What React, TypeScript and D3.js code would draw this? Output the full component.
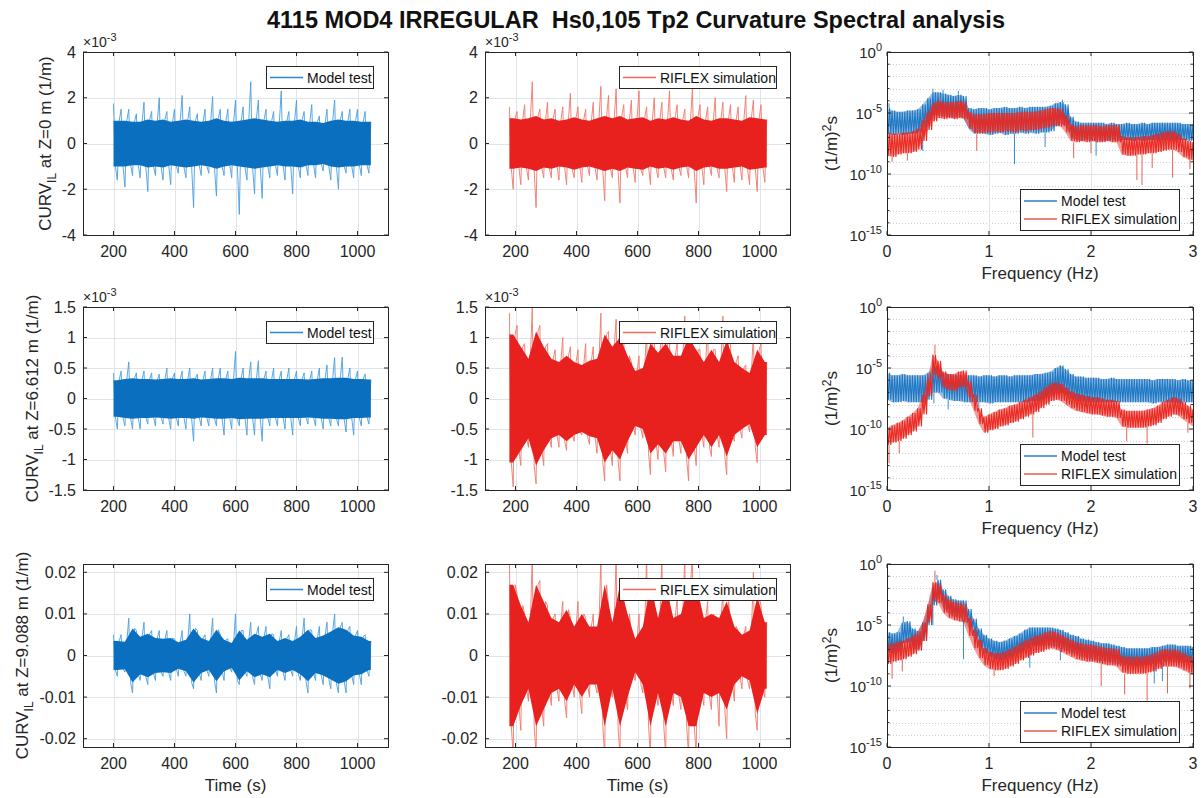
import React from "react";
import * as d3 from "d3";

const FONT = '"Liberation Sans", Arial, Helvetica, sans-serif';
const AX = "#262626";
const GRID = "#dfe4ea";
const TITLE = "4115 MOD4 IRREGULAR  Hs0,105 Tp2 Curvature Spectral analysis";

// ---------- time grids (bin start, s) ----------
const T_MODEL = [200,225,250,275,300,325,350,375,400,425,450,475,500,525,550,575,600,625,650,675,700,725,750,775,800,825,850,875,900,925,950,975,1000,1025];
const T_RIFLEX = [180,205,230,255,280,305,330,355,380,405,430,455,480,505,530,555,580,605,630,655,680,705,730,755,780,805,830,855,880,905,930,955,980,1005];
const TIME_DOMAIN = [100, 1100];
const TIME_TICKS = [200, 400, 600, 800, 1000];

// ---------- time series envelopes (peak high, peak low, dense core amplitude) ----------
// Row 1 (x1e-3)
const MT1_HI = [1.75,1.5,1.5,1.3,1.8,1.4,2.0,1.4,1.5,2.1,1.6,1.3,1.5,2.05,1.5,1.5,1.9,1.6,2.7,1.9,1.5,1.4,2.3,1.4,1.9,1.4,1.7,1.2,1.5,1.9,1.4,1.5,1.5,1.4];
const MT1_LO = [-1.6,-1.9,-1.4,-1.5,-2.1,-1.4,-1.6,-1.8,-1.3,-1.5,-2.8,-1.4,-1.3,-2.3,-1.4,-1.5,-3.1,-1.6,-2.2,-2.4,-1.5,-1.4,-1.6,-2.2,-1.5,-1.4,-1.5,-1.2,-1.6,-2.0,-1.3,-1.5,-1.4,-1.3];
const MT1_CORE = [1.0,1.0,0.95,0.95,1.05,1.0,1.05,0.95,1.0,1.05,1.0,0.95,1.0,1.1,1.0,0.95,1.0,1.05,1.1,1.05,1.0,0.95,1.0,1.0,1.05,0.95,0.95,0.9,1.0,1.05,1.0,1.0,0.95,0.95];
const RF1_HI = [1.6,1.4,1.7,2.7,1.5,1.8,1.5,1.6,2.2,1.6,1.5,1.8,2.5,2.1,2.4,1.7,1.9,2.3,1.6,2.0,1.8,2.3,1.7,1.5,2.4,1.7,1.6,2.0,1.8,1.7,1.6,2.1,1.9,1.7];
const RF1_LO = [-2.0,-1.8,-1.6,-2.8,-1.5,-1.5,-1.6,-1.8,-1.5,-1.7,-1.4,-1.6,-2.5,-1.5,-2.6,-1.5,-1.7,-1.4,-1.8,-1.5,-1.5,-1.6,-1.4,-1.5,-2.6,-1.8,-1.4,-1.5,-2.1,-1.7,-1.6,-1.8,-2.1,-1.7];
const RF1_CORE = [1.1,1.05,1.1,1.2,1.05,1.1,1.0,1.05,1.15,1.05,1.0,1.1,1.2,1.1,1.2,1.05,1.1,1.15,1.0,1.1,1.05,1.15,1.05,1.0,1.2,1.05,1.0,1.1,1.1,1.05,1.0,1.15,1.1,1.05];
// Row 2 (x1e-3)
const MT2_HI = [0.42,0.45,0.6,0.42,0.45,0.42,0.4,0.5,0.42,0.45,0.5,0.4,0.45,0.5,0.5,0.45,0.77,0.5,0.6,0.62,0.45,0.5,0.45,0.5,0.45,0.42,0.45,0.5,0.55,0.67,0.68,0.5,0.45,0.4];
const MT2_LO = [-0.5,-0.45,-0.5,-0.5,-0.42,-0.45,-0.42,-0.5,-0.45,-0.5,-0.7,-0.45,-0.45,-0.45,-0.6,-0.5,-0.45,-0.6,-0.6,-0.7,-0.45,-0.45,-0.5,-0.6,-0.45,-0.42,-0.45,-0.5,-0.45,-0.45,-0.55,-0.6,-0.45,-0.42];
const MT2_CORE = [0.3,0.32,0.33,0.32,0.32,0.31,0.32,0.33,0.32,0.32,0.33,0.31,0.32,0.33,0.33,0.32,0.34,0.33,0.33,0.33,0.32,0.32,0.32,0.32,0.32,0.31,0.32,0.33,0.33,0.34,0.34,0.32,0.32,0.31];
const RF2_HI = [1.4,1.2,0.9,1.5,1.2,0.9,0.8,1.0,0.85,0.8,0.9,0.85,1.4,1.1,1.3,1.0,0.6,0.7,1.15,1.0,1.25,0.95,0.9,1.35,1.0,0.8,1.2,0.8,1.35,0.9,0.7,0.55,1.1,0.9];
const RF2_LO = [-1.45,-1.1,-0.8,-1.4,-1.1,-0.8,-0.8,-0.85,-0.7,-0.6,-0.75,-0.9,-1.35,-1.1,-1.35,-0.9,-0.6,-0.65,-1.25,-1.0,-1.2,-0.95,-0.9,-1.35,-1.1,-0.8,-0.95,-0.8,-1.25,-0.7,-0.65,-0.55,-1.05,-0.6];
const RF2_CORE = [1.05,0.85,0.65,1.1,0.85,0.65,0.6,0.7,0.6,0.55,0.62,0.65,1.05,0.85,1.0,0.7,0.45,0.5,0.9,0.75,0.9,0.7,0.7,1.0,0.8,0.6,0.8,0.6,0.95,0.6,0.5,0.42,0.8,0.6];
// Row 3 (1/m)
const MT3_HI = [0.005,0.005,0.009,0.006,0.008,0.006,0.006,0.006,0.004,0.006,0.010,0.006,0.005,0.009,0.005,0.004,0.010,0.006,0.008,0.007,0.007,0.005,0.006,0.005,0.007,0.009,0.006,0.007,0.008,0.010,0.008,0.007,0.006,0.005];
const MT3_LO = [-0.005,-0.004,-0.009,-0.006,-0.007,-0.006,-0.005,-0.006,-0.005,-0.005,-0.008,-0.006,-0.005,-0.009,-0.006,-0.004,-0.007,-0.005,-0.007,-0.006,-0.008,-0.005,-0.006,-0.005,-0.006,-0.009,-0.006,-0.007,-0.008,-0.009,-0.009,-0.007,-0.007,-0.005];
const MT3_CORE = [0.0035,0.0033,0.0065,0.0045,0.0052,0.0042,0.004,0.0042,0.0032,0.0038,0.0065,0.0042,0.0035,0.0062,0.0038,0.003,0.006,0.0038,0.0052,0.0045,0.0052,0.0035,0.0042,0.0035,0.0045,0.0062,0.0042,0.0048,0.0058,0.0068,0.0062,0.0048,0.0045,0.0035];
const RF3_HI = [0.024,0.015,0.010,0.024,0.018,0.012,0.010,0.013,0.009,0.013,0.009,0.010,0.024,0.012,0.024,0.015,0.005,0.010,0.024,0.012,0.024,0.012,0.014,0.024,0.024,0.012,0.013,0.009,0.015,0.008,0.006,0.007,0.020,0.012];
const RF3_LO = [-0.024,-0.018,-0.011,-0.024,-0.017,-0.012,-0.011,-0.015,-0.010,-0.014,-0.010,-0.009,-0.024,-0.010,-0.024,-0.013,-0.006,-0.009,-0.024,-0.012,-0.024,-0.012,-0.013,-0.024,-0.024,-0.012,-0.013,-0.017,-0.020,-0.011,-0.008,-0.008,-0.018,-0.010];
const RF3_CORE = [0.017,0.012,0.008,0.017,0.013,0.009,0.008,0.011,0.007,0.010,0.007,0.007,0.017,0.008,0.017,0.010,0.004,0.007,0.017,0.009,0.017,0.009,0.010,0.017,0.017,0.009,0.010,0.009,0.013,0.007,0.005,0.006,0.014,0.008];

// ---------- spectra: log10 of band top / band bottom on a 0.05 Hz grid ----------
const FREQ = [0,0.05,0.1,0.15,0.2,0.25,0.3,0.35,0.4,0.45,0.5,0.55,0.6,0.65,0.7,0.75,0.8,0.85,0.9,0.95,1.0,1.05,1.1,1.15,1.2,1.25,1.3,1.35,1.4,1.45,1.5,1.55,1.6,1.65,1.7,1.75,1.8,1.85,1.9,1.95,2.0,2.05,2.1,2.15,2.2,2.25,2.3,2.35,2.4,2.45,2.5,2.55,2.6,2.65,2.7,2.75,2.8,2.85,2.9,2.95,3.0];

const SP1_MT_HI = [-4.6,-4.8,-4.9,-4.9,-4.8,-4.8,-4.7,-4.3,-3.8,-3.3,-3.3,-3.4,-3.5,-3.6,-3.5,-3.6,-4.6,-4.7,-4.6,-4.6,-4.7,-4.6,-4.6,-4.5,-4.6,-4.6,-4.5,-4.6,-4.5,-4.5,-4.5,-4.5,-4.4,-4.2,-4.1,-4.3,-5.3,-5.7,-5.8,-5.8,-5.8,-5.8,-5.8,-5.9,-5.8,-5.9,-5.9,-5.8,-5.9,-5.9,-5.8,-5.9,-5.8,-5.8,-5.8,-5.8,-5.8,-5.8,-5.9,-5.9,-5.9];
const SP1_MT_LO = [-6.7,-6.8,-6.7,-6.8,-6.7,-6.7,-6.6,-6.2,-5.7,-5.2,-5.2,-5.3,-5.3,-5.4,-5.3,-5.4,-6.3,-6.7,-6.6,-6.7,-6.8,-6.7,-6.6,-6.8,-6.7,-6.7,-6.6,-6.7,-6.6,-6.7,-6.6,-6.6,-6.5,-6.1,-5.9,-6.0,-7.0,-7.2,-7.3,-7.2,-7.3,-7.2,-7.3,-7.3,-7.2,-7.3,-7.2,-7.2,-7.3,-7.2,-7.3,-7.2,-7.2,-7.3,-7.2,-7.2,-7.3,-7.2,-7.2,-7.3,-7.2];
const SP1_RF_HI = [-6.6,-6.7,-6.7,-6.6,-6.6,-6.5,-6.3,-5.6,-4.9,-4.2,-4.0,-4.1,-4.1,-4.1,-4.0,-4.1,-4.9,-5.1,-5.1,-5.1,-5.0,-5.0,-5.0,-5.0,-5.0,-5.0,-4.9,-4.9,-4.9,-4.9,-4.8,-4.7,-4.6,-4.6,-4.7,-5.2,-5.9,-6.1,-6.0,-6.0,-6.0,-6.0,-6.1,-6.0,-6.0,-6.0,-6.9,-7.0,-7.0,-7.0,-6.9,-6.9,-6.8,-6.7,-6.6,-6.5,-6.5,-6.7,-7.1,-7.3,-7.4];
const SP1_RF_LO = [-8.5,-8.6,-8.4,-8.3,-8.3,-8.2,-8.0,-7.3,-6.4,-5.7,-5.4,-5.5,-5.4,-5.5,-5.4,-5.5,-6.2,-6.6,-6.7,-6.6,-6.6,-6.5,-6.6,-6.5,-6.5,-6.6,-6.4,-6.5,-6.4,-6.4,-6.3,-6.2,-6.1,-6.0,-6.1,-6.6,-7.3,-7.4,-7.3,-7.4,-7.3,-7.4,-7.4,-7.3,-7.4,-7.4,-8.4,-8.5,-8.5,-8.4,-8.4,-8.3,-8.3,-8.2,-8.1,-8.0,-8.0,-8.2,-8.6,-8.8,-8.9];
const SP1_MT_SPIKES = [[0.02,-4.2],[0.35,-8.1],[0.45,-3.0],[0.55,-3.1],[0.7,-3.2],[1.25,-9.2],[1.55,-7.8],[1.72,-3.9],[2.05,-8.5]];
const SP1_RF_SPIKES = [[0.05,-9.0],[0.2,-8.9],[0.52,-3.8],[0.88,-8.1],[1.83,-8.7],[2.0,-8.3],[2.45,-10.5],[2.5,-10.9],[2.6,-9.5],[2.8,-10.3],[2.97,-9.6]];

const SP2_MT_HI = [-5.4,-5.6,-5.6,-5.5,-5.6,-5.6,-5.6,-5.6,-5.4,-4.9,-5.0,-5.4,-5.5,-5.6,-5.6,-5.6,-5.6,-5.6,-5.7,-5.6,-5.6,-5.7,-5.6,-5.6,-5.7,-5.6,-5.6,-5.6,-5.6,-5.5,-5.5,-5.4,-5.3,-5.0,-4.8,-5.1,-5.5,-5.7,-5.7,-5.8,-5.8,-5.8,-5.9,-5.9,-5.8,-5.9,-5.9,-5.9,-5.9,-5.9,-5.9,-5.9,-6.0,-5.9,-5.9,-5.9,-5.9,-6.0,-5.9,-6.0,-6.0];
const SP2_MT_LO = [-7.6,-7.8,-7.8,-7.7,-7.8,-7.8,-7.8,-7.8,-7.6,-7.0,-7.0,-7.5,-7.6,-7.7,-7.7,-7.8,-7.8,-7.8,-7.8,-7.8,-7.9,-7.8,-7.8,-7.8,-7.8,-7.8,-7.8,-7.8,-7.7,-7.7,-7.6,-7.5,-7.4,-7.2,-7.0,-7.2,-7.5,-7.7,-7.7,-7.8,-7.8,-7.8,-7.8,-7.8,-7.8,-7.8,-7.8,-7.8,-7.8,-7.8,-7.8,-7.8,-7.9,-7.8,-7.8,-7.8,-7.8,-7.9,-7.8,-7.8,-7.8];
const SP2_RF_HI = [-9.9,-9.7,-9.5,-9.3,-9.0,-8.7,-8.3,-7.2,-5.8,-3.9,-4.4,-5.3,-5.5,-5.5,-5.3,-5.2,-6.1,-7.2,-8.3,-9.0,-8.8,-8.6,-8.4,-8.3,-8.1,-8.0,-7.8,-7.6,-7.4,-7.2,-6.9,-6.6,-6.3,-6.2,-6.3,-6.6,-6.9,-7.1,-7.2,-7.3,-7.4,-7.4,-7.5,-7.6,-7.6,-7.7,-8.4,-8.5,-8.5,-8.5,-8.5,-8.4,-8.3,-8.1,-7.8,-7.6,-7.4,-7.5,-7.8,-8.1,-8.4];
const SP2_RF_LO = [-11.3,-11.1,-11.0,-10.8,-10.5,-10.2,-9.8,-8.8,-7.3,-5.5,-5.8,-6.6,-6.8,-6.9,-6.6,-6.5,-7.4,-8.5,-9.6,-10.3,-10.1,-10.0,-9.8,-9.7,-9.5,-9.4,-9.2,-9.0,-8.8,-8.6,-8.3,-8.0,-7.7,-7.6,-7.7,-8.0,-8.3,-8.5,-8.6,-8.7,-8.8,-8.8,-8.9,-9.0,-9.0,-9.1,-9.8,-9.9,-9.9,-9.9,-9.9,-9.8,-9.7,-9.5,-9.2,-9.0,-8.8,-8.9,-9.2,-9.5,-9.8];
const SP2_MT_SPIKES = [[0.46,-7.9],[0.6,-8.4],[0.9,-8.2],[1.3,-8.0],[1.95,-8.2]];
const SP2_RF_SPIKES = [[0.02,-12.8],[0.12,-12.0],[0.47,-3.1],[1.43,-10.7],[2.35,-11.0],[2.55,-11.2],[2.95,-10.3]];

const SP3_MT_HI = [-5.6,-5.7,-5.6,-4.8,-4.7,-5.3,-5.5,-4.8,-3.5,-1.9,-1.3,-2.1,-2.6,-2.9,-3.0,-3.0,-3.7,-4.5,-5.3,-5.8,-6.1,-6.3,-6.4,-6.3,-6.1,-5.9,-5.7,-5.4,-5.2,-5.2,-5.2,-5.2,-5.2,-5.3,-5.4,-5.6,-5.8,-5.9,-6.1,-6.2,-6.3,-6.4,-6.5,-6.5,-6.6,-6.7,-6.8,-6.9,-6.9,-6.9,-6.9,-6.9,-6.8,-6.8,-6.7,-6.6,-6.6,-6.7,-6.7,-6.7,-6.8];
const SP3_MT_LO = [-7.2,-7.3,-7.2,-6.5,-6.4,-6.9,-7.0,-6.3,-5.0,-3.4,-2.8,-3.6,-4.0,-4.3,-4.4,-4.5,-5.2,-6.0,-6.8,-7.3,-7.6,-7.8,-7.9,-7.8,-7.6,-7.4,-7.2,-6.9,-6.7,-6.7,-6.7,-6.7,-6.7,-6.8,-6.9,-7.1,-7.3,-7.4,-7.6,-7.7,-7.8,-7.9,-8.0,-8.0,-8.1,-8.2,-8.3,-8.3,-8.4,-8.4,-8.3,-8.3,-8.2,-8.2,-8.1,-8.0,-8.0,-8.1,-8.1,-8.1,-8.2];
const SP3_RF_HI = [-6.6,-6.5,-6.4,-6.3,-6.1,-5.9,-5.6,-4.8,-3.3,-1.5,-1.6,-2.5,-2.9,-3.1,-3.2,-3.3,-4.4,-5.4,-6.2,-6.9,-7.2,-7.3,-7.3,-7.2,-7.0,-6.8,-6.5,-6.3,-6.1,-5.9,-5.8,-5.6,-5.5,-5.6,-5.8,-6.0,-6.2,-6.4,-6.5,-6.6,-6.6,-6.7,-6.8,-6.9,-6.9,-7.0,-7.5,-7.6,-7.6,-7.6,-7.6,-7.5,-7.4,-7.2,-7.0,-7.0,-7.0,-7.1,-7.3,-7.5,-7.7];
const SP3_RF_LO = [-8.2,-8.0,-7.9,-7.8,-7.6,-7.4,-7.1,-6.3,-4.8,-3.0,-3.2,-4.0,-4.4,-4.6,-4.7,-4.8,-5.9,-6.9,-7.7,-8.3,-8.6,-8.7,-8.7,-8.6,-8.4,-8.2,-7.9,-7.7,-7.5,-7.3,-7.2,-7.0,-6.9,-7.0,-7.2,-7.4,-7.6,-7.8,-7.9,-8.0,-8.0,-8.1,-8.2,-8.3,-8.3,-8.4,-8.9,-9.0,-9.0,-9.0,-9.0,-8.9,-8.8,-8.6,-8.4,-8.4,-8.4,-8.5,-8.7,-8.9,-9.1];
const SP3_MT_SPIKES = [[0.0,-3.7],[0.16,-4.3],[0.45,-5.0],[0.49,-0.9],[0.75,-7.8],[1.4,-8.5],[1.7,-7.9],[2.62,-9.8],[2.7,-9.6]];
const SP3_RF_SPIKES = [[0.05,-9.4],[0.15,-8.8],[0.47,-0.55],[1.05,-9.2],[2.1,-10.0],[2.33,-10.7],[2.55,-11.2],[2.75,-10.6],[2.97,-10.2]];

// ---------- layout ----------
const COLS = [
  { x0: 83, x1: 388 },
  { x0: 485, x1: 790 },
  { x0: 887, x1: 1193 },
];
const ROWS = [
  { y0: 52, y1: 235 },
  { y0: 307, y1: 490 },
  { y0: 564, y1: 747 },
];

const TS_ROWS = [
  { domain: [-4, 4], ticks: [-4, -2, 0, 2, 4], exp: true, z: "0", labelX: 51 },
  { domain: [-1.5, 1.5], ticks: [-1.5, -1, -0.5, 0, 0.5, 1, 1.5], exp: true, z: "6.612", labelX: 38 },
  { domain: [-0.022, 0.022], ticks: [-0.02, -0.01, 0, 0.01, 0.02], exp: false, z: "9.088", labelX: 28 },
];

const MODEL_TS = [
  { hi: MT1_HI, lo: MT1_LO, core: MT1_CORE },
  { hi: MT2_HI, lo: MT2_LO, core: MT2_CORE },
  { hi: MT3_HI, lo: MT3_LO, core: MT3_CORE },
];
const RIFLEX_TS = [
  { hi: RF1_HI, lo: RF1_LO, core: RF1_CORE },
  { hi: RF2_HI, lo: RF2_LO, core: RF2_CORE },
  { hi: RF3_HI, lo: RF3_LO, core: RF3_CORE },
];
const SPECTRA = [
  { mt: { hi: SP1_MT_HI, lo: SP1_MT_LO, sp: SP1_MT_SPIKES }, rf: { hi: SP1_RF_HI, lo: SP1_RF_LO, sp: SP1_RF_SPIKES } },
  { mt: { hi: SP2_MT_HI, lo: SP2_MT_LO, sp: SP2_MT_SPIKES }, rf: { hi: SP2_RF_HI, lo: SP2_RF_LO, sp: SP2_RF_SPIKES } },
  { mt: { hi: SP3_MT_HI, lo: SP3_MT_LO, sp: SP3_MT_SPIKES }, rf: { hi: SP3_RF_HI, lo: SP3_RF_LO, sp: SP3_RF_SPIKES } },
];

const STYLE = {
  model: { core: "#0b6fc0", spike: "#4a9de0", legend: "#2f88d2", band: "#1a72be", zig: "#1f78c4", dip: "#3c8cd2" },
  riflex: { core: "#e8201e", spike: "#f2786a", legend: "#f06a58", band: "#e8241f", zig: "#ea2a22", dip: "#e86252" },
};

function Frame({ x0, x1, y0, y1 }) {
  return <rect x={x0 + 0.5} y={y0 + 0.5} width={x1 - x0} height={y1 - y0} fill="none" stroke={AX} strokeWidth={1} shapeRendering="crispEdges" />;
}

function Legend({ x, y, w, items }) {
  const h = items.length === 1 ? 22 : 41;
  return (
    <g>
      <rect x={x + 0.5} y={y + 0.5} width={w} height={h} fill="#fff" stroke={AX} strokeWidth={1} shapeRendering="crispEdges" />
      {items.map((it, i) => {
        const cy = items.length === 1 ? y + 11.5 : y + 12 + i * 18;
        return (
          <g key={i}>
            <line x1={x + 4} x2={x + 37} y1={cy} y2={cy} stroke={it.color} strokeWidth={1.6} />
            <text x={x + 41} y={cy + 5} fontSize={14} fill="#111">{it.label}</text>
          </g>
        );
      })}
    </g>
  );
}

function TimePanel({ ri, ci, data, kind, label }) {
  const { x0, x1 } = COLS[ci];
  const { y0, y1 } = ROWS[ri];
  const cfg = TS_ROWS[ri];
  const st = STYLE[kind];
  const t = kind === "model" ? T_MODEL : T_RIFLEX;
  const x = d3.scaleLinear().domain(TIME_DOMAIN).range([x0, x1]);
  const y = d3.scaleLinear().domain(cfg.domain).range([y1, y0]);
  const n = Math.min(t.length, data.hi.length, data.lo.length, data.core.length);
  const spikePts = [];
  for (let i = 0; i < n; i++) {
    spikePts.push([x(t[i]), y(data.hi[i])]);
    spikePts.push([x(t[i] + 6.25), y(-data.core[i])]);
    spikePts.push([x(t[i] + 12.5), y(data.lo[i])]);
    spikePts.push([x(t[i] + 18.75), y(data.core[i])]);
  }
  const spikes = d3.line()(spikePts);
  const corePts = [[t[0], data.core[0]]];
  for (let i = 0; i < n; i++) corePts.push([t[i] + 12.5, data.core[i]]);
  corePts.push([t[n - 1] + 18.75, data.core[n - 1]]);
  const coreArea = d3
    .area()
    .x((d) => x(d[0]))
    .y0((d) => y(-d[1]))
    .y1((d) => y(d[1]))(corePts);
  const clipId = `clip-t-${ri}-${ci}`;
  const cy = (y0 + y1) / 2;
  return (
    <g>
      <defs>
        <clipPath id={clipId}>
          <rect x={x0} y={y0} width={x1 - x0} height={y1 - y0} />
        </clipPath>
      </defs>
      {TIME_TICKS.map((v) => (
        <line key={"gx" + v} x1={Math.round(x(v)) + 0.5} x2={Math.round(x(v)) + 0.5} y1={y0} y2={y1} stroke={GRID} shapeRendering="crispEdges" />
      ))}
      {cfg.ticks.map((v) => (
        <line key={"gy" + v} x1={x0} x2={x1} y1={Math.round(y(v)) + 0.5} y2={Math.round(y(v)) + 0.5} stroke={GRID} shapeRendering="crispEdges" />
      ))}
      <g clipPath={`url(#${clipId})`}>
        <path d={spikes} fill="none" stroke={st.spike} strokeWidth={1} strokeOpacity={0.9} />
        <path d={coreArea} fill={st.core} />
      </g>
      <Frame x0={x0} x1={x1} y0={y0} y1={y1} />
      {TIME_TICKS.map((v) => (
        <g key={"tx" + v}>
          <line x1={x(v)} x2={x(v)} y1={y1} y2={y1 - 4} stroke={AX} />
          <line x1={x(v)} x2={x(v)} y1={y0} y2={y0 + 4} stroke={AX} />
          <text x={x(v)} y={y1 + 22} textAnchor="middle" fontSize={16} fill={AX}>{v}</text>
        </g>
      ))}
      {cfg.ticks.map((v) => (
        <g key={"ty" + v}>
          <line x1={x0} x2={x0 + 4} y1={y(v)} y2={y(v)} stroke={AX} />
          <line x1={x1} x2={x1 - 4} y1={y(v)} y2={y(v)} stroke={AX} />
          <text x={x0 - 7} y={y(v) + 5.5} textAnchor="end" fontSize={16} fill={AX}>{String(v)}</text>
        </g>
      ))}
      {cfg.exp && (
        <text x={x0} y={y0 - 5} fontSize={14} fill={AX}>
          ×10<tspan dy={-6} fontSize={11}>-3</tspan>
        </text>
      )}
      {ci === 0 && (
        <text transform={`translate(${cfg.labelX},${cy}) rotate(-90)`} textAnchor="middle" fontSize={17} fill={AX} xmlSpace="preserve">
          CURV<tspan dy={5} fontSize={12}>IL</tspan>
          <tspan dy={-5}>{` at Z=${cfg.z} m (1/m)`}</tspan>
        </text>
      )}
      {ri === 2 && (
        <text x={(x0 + x1) / 2} y={y1 + 44} textAnchor="middle" fontSize={17} fill={AX}>Time (s)</text>
      )}
      <Legend
        x={kind === "model" ? x1 - 122 : x1 - 171}
        y={y0 + 14}
        w={kind === "model" ? 107 : 157}
        items={[{ label: label, color: st.legend }]}
      />
    </g>
  );
}

function SpecSeries({ s, st, x, y }) {
  const n = Math.min(FREQ.length, s.hi.length, s.lo.length);
  const idx = d3.range(n);
  const band = d3
    .area()
    .x((i) => x(FREQ[i]))
    .y0((i) => y(Math.pow(10, s.lo[i])))
    .y1((i) => y(Math.pow(10, s.hi[i])))(idx);
  const pts = [];
  for (let i = 0; i < n; i++) {
    pts.push([x(FREQ[i]), y(Math.pow(10, s.hi[i]))]);
    pts.push([x(FREQ[i] + 0.0125), y(Math.pow(10, s.lo[i]))]);
    pts.push([x(FREQ[i] + 0.025), y(Math.pow(10, s.hi[i]))]);
    pts.push([x(FREQ[i] + 0.0375), y(Math.pow(10, s.lo[i]))]);
  }
  const zig = d3.line()(pts);
  return (
    <g>
      <path d={band} fill={st.band} fillOpacity={0.45} />
      <path d={zig} fill="none" stroke={st.zig} strokeWidth={1.1} />
      {s.sp.map(([f, v], k) => {
        const i = Math.max(0, Math.min(n - 1, Math.round(f / 0.05)));
        const base = v > s.hi[i] ? s.hi[i] : s.lo[i];
        return <line key={k} x1={x(f)} x2={x(f)} y1={y(Math.pow(10, base))} y2={y(Math.pow(10, v))} stroke={st.dip} strokeWidth={1} />;
      })}
    </g>
  );
}

function SpecPanel({ ri, spec }) {
  const { x0, x1 } = COLS[2];
  const { y0, y1 } = ROWS[ri];
  const x = d3.scaleLinear().domain([0, 3]).range([x0, x1]);
  const y = d3.scaleLog().domain([1e-15, 1]).range([y1, y0]);
  const decades = d3.range(0, 16).map((k) => -k);
  const majors = [0, -5, -10, -15];
  const clipId = `clip-s-${ri}`;
  const cy = (y0 + y1) / 2;
  return (
    <g>
      <defs>
        <clipPath id={clipId}>
          <rect x={x0} y={y0} width={x1 - x0} height={y1 - y0} />
        </clipPath>
      </defs>
      {decades.filter((e) => !majors.includes(e)).map((e) => (
        <line key={"mg" + e} x1={x0} x2={x1} y1={Math.round(y(Math.pow(10, e))) + 0.5} y2={Math.round(y(Math.pow(10, e))) + 0.5} stroke="#c9ced6" strokeDasharray="1,2" shapeRendering="crispEdges" />
      ))}
      {[-5, -10].map((e) => (
        <line key={"gy" + e} x1={x0} x2={x1} y1={Math.round(y(Math.pow(10, e))) + 0.5} y2={Math.round(y(Math.pow(10, e))) + 0.5} stroke={GRID} shapeRendering="crispEdges" />
      ))}
      {[1, 2].map((v) => (
        <line key={"gx" + v} x1={Math.round(x(v)) + 0.5} x2={Math.round(x(v)) + 0.5} y1={y0} y2={y1} stroke={GRID} shapeRendering="crispEdges" />
      ))}
      <g clipPath={`url(#${clipId})`}>
        <SpecSeries s={spec.mt} st={STYLE.model} x={x} y={y} />
        <SpecSeries s={spec.rf} st={STYLE.riflex} x={x} y={y} />
      </g>
      <Frame x0={x0} x1={x1} y0={y0} y1={y1} />
      {[0, 1, 2, 3].map((v) => (
        <g key={"tx" + v}>
          <line x1={x(v)} x2={x(v)} y1={y1} y2={y1 - 4} stroke={AX} />
          <line x1={x(v)} x2={x(v)} y1={y0} y2={y0 + 4} stroke={AX} />
          <text x={x(v)} y={y1 + 22} textAnchor="middle" fontSize={16} fill={AX}>{v}</text>
        </g>
      ))}
      {decades.map((e) => {
        const len = majors.includes(e) ? 4 : 2.5;
        const yy = y(Math.pow(10, e));
        return (
          <g key={"ty" + e}>
            <line x1={x0} x2={x0 + len} y1={yy} y2={yy} stroke={AX} />
            <line x1={x1} x2={x1 - len} y1={yy} y2={yy} stroke={AX} />
          </g>
        );
      })}
      {majors.map((e) => (
        <text key={"yl" + e} x={x0 - 5} y={y(Math.pow(10, e)) + 6} textAnchor="end" fontSize={15} fill={AX}>
          10<tspan dy={-7} fontSize={11}>{String(e)}</tspan>
        </text>
      ))}
      <text transform={`translate(837,${cy}) rotate(-90)`} textAnchor="middle" fontSize={17} fill={AX}>
        (1/m)<tspan dy={-6} fontSize={12}>2</tspan>
        <tspan dy={6}>s</tspan>
      </text>
      <text x={(x0 + x1) / 2} y={y1 + 44} textAnchor="middle" fontSize={17} fill={AX}>Frequency (Hz)</text>
      <Legend
        x={x1 - 173}
        y={y1 - 46}
        w={159}
        items={[
          { label: "Model test", color: "#2a7fc4" },
          { label: "RIFLEX simulation", color: "#e45a4c" },
        ]}
      />
    </g>
  );
}

export default function App() {
  return (
    <svg width={1201} height={798} style={{ position: "absolute", left: 0, top: 0 }} fontFamily={FONT}>
      <rect x={0} y={0} width={1201} height={798} fill="#fff" />
      <text x={636} y={28} textAnchor="middle" fontSize={23.5} fontWeight="bold" fill="#111" xmlSpace="preserve" style={{ whiteSpace: "pre" }}>
        {TITLE}
      </text>
      {ROWS.map((r, ri) => (
        <g key={ri}>
          <TimePanel ri={ri} ci={0} data={MODEL_TS[ri]} kind="model" label="Model test" />
          <TimePanel ri={ri} ci={1} data={RIFLEX_TS[ri]} kind="riflex" label="RIFLEX simulation" />
          <SpecPanel ri={ri} spec={SPECTRA[ri]} />
        </g>
      ))}
    </svg>
  );
}
